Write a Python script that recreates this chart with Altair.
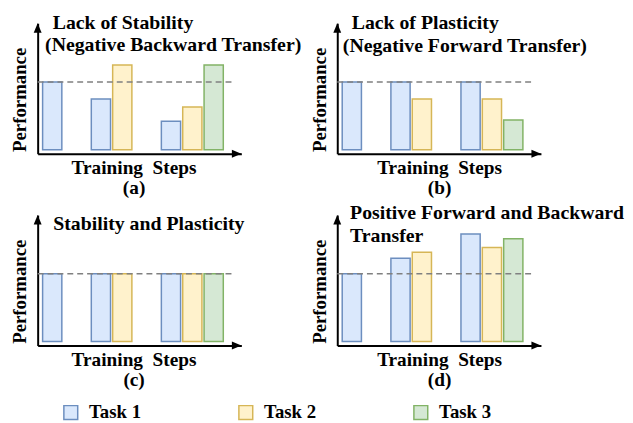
import altair as alt
import pandas as pd

FONT = "Liberation Serif"

tasks = ["Task 1", "Task 2", "Task 3"]
steps = ["Step 1", "Step 2", "Step 3"]

# Performance of each task after each training step (None = task not trained yet).
# 1.0 is the dashed reference level (performance right after learning the task).
a_task1 = [1.00, 0.75, 0.42]
a_task2 = [None, 1.25, 0.63]
a_task3 = [None, None, 1.25]

b_task1 = [1.00, 1.00, 1.00]
b_task2 = [None, 0.75, 0.75]
b_task3 = [None, None, 0.44]

c_task1 = [1.00, 1.00, 1.00]
c_task2 = [None, 1.00, 1.00]
c_task3 = [None, None, 1.00]

d_task1 = [1.00, 1.23, 1.59]
d_task2 = [None, 1.32, 1.39]
d_task3 = [None, None, 1.52]

reference_level = 1.0

titles_a = ["Lack of Stability", "(Negative Backward Transfer)"]
titles_b = ["Lack of Plasticity", "(Negative Forward Transfer)"]
titles_c = ["Stability and Plasticity"]
titles_d = ["Positive Forward and Backward", "Transfer"]
panel_labels = ["(a)", "(b)", "(c)", "(d)"]
x_title = "Training\u00a0\u00a0Steps"
y_title = "Performance"

fills = ["#dae8fc", "#fff2cc", "#d5e8d4"]
strokes = ["#6c8ebf", "#d6b656", "#82b366"]

# ---------------- layout (not data) ----------------
W, H = 206, 132
SLOT_PX = 21.6
BAR_W = 0.9
GROUP_GAP = 1.28
LEFT_PX = 5
BASE_PX = 4
UNIT_PX = 68.5
xmin = -LEFT_PX / SLOT_PX
xmax = (W - LEFT_PX) / SLOT_PX
ymin = -BASE_PX / UNIT_PX
ymax = (H - BASE_PX) / UNIT_PX
dash_end = (200 - LEFT_PX) / SLOT_PX

group_start = [0.0]
for k in range(1, len(steps)):
    group_start.append(group_start[-1] + k + GROUP_GAP)


def build(series):
    rows = []
    for j, (task, vals) in enumerate(zip(tasks, series)):
        for i, v in enumerate(vals):
            if v is None:
                continue
            x0 = group_start[i] + j
            rows.append({"task": task, "step": steps[i], "perf": v,
                         "x0": x0, "x1": x0 + BAR_W})
    return pd.DataFrame(rows)


LEG = alt.Legend(
    orient="none", legendX=24, legendY=384, direction="horizontal", title=None,
    symbolType="square", symbolSize=196, symbolStrokeWidth=1.5,
    labelFont=FONT, labelFontSize=19, labelFontWeight="bold", labelColor="black",
    labelOffset=9, columnPadding=95, labelBaseline="middle",
)

UP = "M0,0L-1,2.4L1,2.4Z"
RIGHT = "M0,0L-2.4,-1L-2.4,1Z"
one = pd.DataFrame({"level": [reference_level]})


def panel(series, title_lines, title_pos, label, title_x):
    df = build(series)
    xs = alt.Scale(domain=[xmin, xmax], nice=False, zero=False)
    ys = alt.Scale(domain=[ymin, ymax], nice=False, zero=False)
    bars = alt.Chart(df).mark_bar(strokeWidth=1.5, fillOpacity=1).encode(
        x=alt.X("x0:Q", scale=xs, axis=alt.Axis(
            domain=True, domainColor="black", domainWidth=2, ticks=False, labels=False,
            grid=False, title=[x_title, label], titleFont=FONT, titleFontSize=19.5,
            titleFontWeight="bold", titleColor="black", titlePadding=5,
            titleLineHeight=20.5, titleX=title_x)),
        x2="x1:Q",
        y=alt.Y("perf:Q", scale=ys, axis=alt.Axis(
            domain=True, domainColor="black", domainWidth=2, ticks=False, labels=False,
            grid=False, title=y_title, titleFont=FONT, titleFontSize=19,
            titleFontWeight="bold", titleColor="black", titlePadding=8,
            titleAngle=270, titleBaseline="bottom", titleAlign="center", titleY=77)),
        y2=alt.datum(0),
        fill=alt.Fill("task:N", scale=alt.Scale(domain=tasks, range=fills), legend=LEG),
        stroke=alt.Stroke("task:N", scale=alt.Scale(domain=tasks, range=strokes), legend=LEG),
    )
    rule = alt.Chart(one).mark_rule(color="#808080", strokeDash=[6, 4], strokeWidth=1.5).encode(
        y=alt.datum(reference_level),
        x=alt.datum(xmin),
        x2=alt.datum(dash_end),
    )
    up = alt.Chart(one).mark_point(shape=UP, filled=True, color="black", opacity=1, size=64).encode(
        x=alt.datum(xmin), y=alt.datum(ymax))
    right = alt.Chart(one).mark_point(shape=RIGHT, filled=True, color="black", opacity=1, size=64).encode(
        x=alt.datum(xmax), y=alt.datum(ymin))
    tdf = pd.DataFrame({"line": title_lines,
                        "px": [p[0] for p in title_pos],
                        "py": [p[1] for p in title_pos]})
    texts = alt.Chart(tdf).mark_text(align="left", baseline="alphabetic", font=FONT,
                                     fontSize=20, fontWeight="bold", color="black").encode(
        text="line:N",
        x=alt.X("px:Q", scale=None, axis=None),
        y=alt.Y("py:Q", scale=None, axis=None),
    )
    return alt.layer(bars, rule, up, right, texts).properties(width=W, height=H)


pa = panel([a_task1, a_task2, a_task3], titles_a, [(15.2, 6), (7.5, 28.2)], panel_labels[0], 97)
pb = panel([b_task1, b_task2, b_task3], titles_b, [(14.6, 5.7), (5.6, 28.7)], panel_labels[1], 103)
pc = panel([c_task1, c_task2, c_task3], titles_c, [(15.8, 15.2)], panel_labels[2], 97)
pd_ = panel([d_task1, d_task2, d_task3], titles_d, [(13, 4.5), (13, 27.5)], panel_labels[3], 103)

chart = alt.concat(pa, pb, pc, pd_, columns=2, spacing={"row": 62, "column": 97}, bounds="flush").properties(
    padding={"left": 2, "top": 2, "right": 0, "bottom": 3}
).configure(font=FONT).configure_view(stroke=None)

chart.save("out.html", embed_options={"renderer": "svg", "actions": False})
